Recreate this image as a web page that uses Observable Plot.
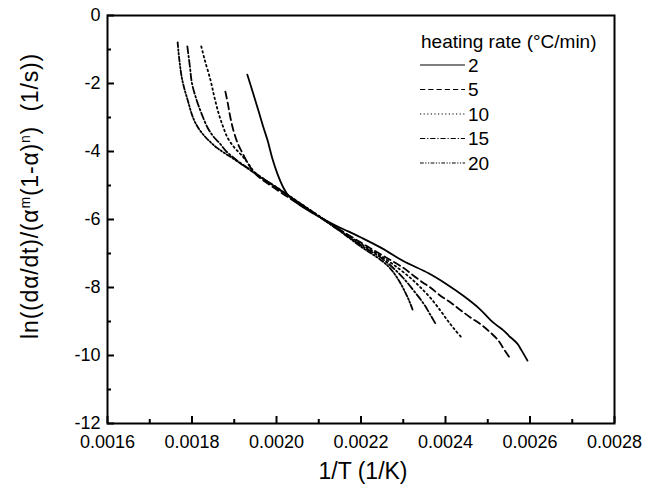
<!DOCTYPE html>
<html>
<head>
<meta charset="utf-8">
<script src="https://cdn.jsdelivr.net/npm/d3@7"></script>
<script src="https://cdn.jsdelivr.net/npm/@observablehq/plot@0.6"></script>
<style>
  html, body { margin: 0; padding: 0; background: #fff; }
  #chart { width: 649px; height: 493px; }
</style>
</head>
<body>
<div id="chart"></div>
<script>
// heating rates (°C/min) and their curves [1/T (1/K), ln(...)]
const rates = ["2", "5", "10", "15", "20"];
const s2 = [[0.001931,-1.74],[0.001945,-2.3],[0.001957,-2.79],[0.001968,-3.25],[0.001979,-3.68],[0.00199,-4.2],[0.002002,-4.65],[0.002017,-5.08],[0.00203,-5.33],[0.00205,-5.53],[0.00208,-5.77],[0.00211,-5.98],[0.00214,-6.18],[0.00217,-6.35],[0.0022,-6.53],[0.00225,-6.85],[0.0023,-7.22],[0.00236,-7.58],[0.0024,-7.88],[0.002443,-8.25],[0.00248,-8.62],[0.002506,-8.95],[0.00252,-9.1],[0.002537,-9.26],[0.00255,-9.42],[0.00257,-9.65],[0.00258,-9.85],[0.002594,-10.15]];
const s5 = [[0.001879,-2.24],[0.001885,-2.6],[0.00189,-2.95],[0.001898,-3.38],[0.001908,-3.75],[0.00192,-4.06],[0.001931,-4.32],[0.00195,-4.66],[0.002,-5.12],[0.00205,-5.52],[0.0021,-5.9],[0.00215,-6.3],[0.0022,-6.68],[0.00225,-7.05],[0.0023,-7.42],[0.002324,-7.65],[0.002346,-7.85],[0.002364,-8.0],[0.002388,-8.24],[0.002412,-8.44],[0.002435,-8.66],[0.002459,-8.88],[0.002483,-9.08],[0.002506,-9.32],[0.002525,-9.56],[0.002537,-9.79],[0.002555,-10.12]];
const s10 = [[0.001822,-0.91],[0.00183,-1.3],[0.001844,-1.91],[0.001853,-2.4],[0.001863,-2.88],[0.001873,-3.25],[0.001884,-3.59],[0.0019,-3.88],[0.001915,-4.08],[0.00193,-4.3],[0.00195,-4.63],[0.002,-5.05],[0.00205,-5.47],[0.0021,-5.89],[0.00215,-6.31],[0.0022,-6.72],[0.00225,-7.1],[0.00229,-7.45],[0.00232,-7.75],[0.002341,-8.0],[0.002364,-8.3],[0.002388,-8.68],[0.002405,-8.97],[0.00242,-9.21],[0.002438,-9.47]];
const s15 = [[0.001789,-0.91],[0.001795,-1.5],[0.0018,-2.0],[0.00181,-2.45],[0.001823,-2.9],[0.001837,-3.3],[0.00185,-3.55],[0.001867,-3.78],[0.00188,-3.98],[0.0019,-4.2],[0.00195,-4.64],[0.002,-5.06],[0.00205,-5.48],[0.0021,-5.9],[0.00215,-6.33],[0.0022,-6.76],[0.00225,-7.15],[0.00228,-7.47],[0.0023,-7.72],[0.002324,-8.08],[0.002348,-8.47],[0.002364,-8.8],[0.002378,-9.1]];
const s20 = [[0.001766,-0.79],[0.00177,-1.3],[0.001777,-1.9],[0.00179,-2.5],[0.001804,-3.05],[0.00182,-3.4],[0.00184,-3.68],[0.00186,-3.9],[0.0019,-4.23],[0.00195,-4.65],[0.002,-5.06],[0.00205,-5.49],[0.0021,-5.91],[0.00215,-6.34],[0.0022,-6.8],[0.00225,-7.22],[0.00227,-7.45],[0.00229,-7.8],[0.002305,-8.15],[0.002315,-8.42],[0.002322,-8.65]];
const seriesData = [s2, s5, s10, s15, s20];
const dashes = ["none", "7,4", "1.6,3.2", "7,2.5,1.6,2.5", "5,2,1.6,2,1.6,2"];
const xDomain = [0.0016, 0.0028];
const yDomain = [-12, 0];
const xMajor = [0.0016, 0.0018, 0.0020, 0.0022, 0.0024, 0.0026, 0.0028];
const xMinor = [0.0017, 0.0019, 0.0021, 0.0023, 0.0025, 0.0027];
const yMajor = [0, -2, -4, -6, -8, -10, -12];
const yMinor = [-1, -3, -5, -7, -9, -11];
const xTitle = "1/T (1/K)";
const legendTitle = "heating rate (°C/min)";

const rows = seriesData.flatMap((s, i) => s.map(([x, y]) => ({rate: rates[i], x, y})));

const W = 649, H = 493, ML = 107, MR = 35, MT = 15, MB = 70;
const FW = W - ML - MR, FH = H - MT - MB;
// tick lengths in pixels converted to data units (linear scales)
const yPx = (yDomain[1] - yDomain[0]) / FH;
const xPx = (xDomain[1] - xDomain[0]) / FW;
const font = "Liberation Sans, Arial, Helvetica, sans-serif";
const plot = Plot.plot({
  width: W,
  height: H,
  marginLeft: ML,
  marginRight: MR,
  marginTop: MT,
  marginBottom: MB,
  style: {fontFamily: font, fontSize: "18px", color: "#000", background: "#fff"},
  x: {domain: xDomain},
  y: {domain: yDomain},
  marks: [
    ...rates.map((r, i) => Plot.line(rows.filter(d => d.rate === r), {
      x: "x", y: "y", stroke: "#000", strokeWidth: 1.8,
      strokeDasharray: dashes[i] === "none" ? null : dashes[i], curve: "catmull-rom"
    })),
    // inward ticks
    Plot.ruleX(xMajor, {x: d => d, y1: yDomain[0], y2: yDomain[0] + 7 * yPx, stroke: "#000", strokeWidth: 2}),
    Plot.ruleX(xMinor, {x: d => d, y1: yDomain[0], y2: yDomain[0] + 4 * yPx, stroke: "#000", strokeWidth: 2}),
    Plot.ruleY(yMajor, {y: d => d, x1: xDomain[0], x2: xDomain[0] + 7 * xPx, stroke: "#000", strokeWidth: 2}),
    Plot.ruleY(yMinor, {y: d => d, x1: xDomain[0], x2: xDomain[0] + 4 * xPx, stroke: "#000", strokeWidth: 2}),
    // tick labels
    Plot.axisX(xMajor, {tickSize: 0, tickPadding: 12, tickFormat: d => d.toFixed(4), label: null, fontSize: 18}),
    Plot.axisY(yMajor, {tickSize: 0, tickPadding: 7, tickFormat: d => String(d), label: null, fontSize: 18}),
    Plot.frame({stroke: "#000", strokeWidth: 2})
  ]
});
document.getElementById("chart").appendChild(plot);

const svg = d3.select(plot);
// x-axis title
svg.append("text").attr("x", 363).attr("y", 479).attr("text-anchor", "middle")
  .attr("font-family", font).attr("font-size", 23).attr("fill", "#000").text(xTitle);
// y-axis title with superscripts
const yt = svg.append("text").attr("transform", "translate(38,196) rotate(-90)")
  .attr("text-anchor", "middle").attr("font-family", font).attr("font-size", 23)
  .attr("letter-spacing", 0.8).attr("fill", "#000");
yt.append("tspan").text("ln((dα/dt)/(α");
yt.append("tspan").attr("baseline-shift", "super").attr("font-size", 14).text("m");
yt.append("tspan").text("(1-α)");
yt.append("tspan").attr("baseline-shift", "super").attr("font-size", 14).text("n");
yt.append("tspan").text(")\u00a0\u00a0(1/s))");
// legend
const lg = svg.append("g").attr("font-family", font).attr("font-size", 19)
  .attr("fill", "#000").attr("text-anchor", "start");
lg.append("text").attr("x", 421).attr("y", 48).attr("text-anchor", "start").text(legendTitle);
rates.forEach((r, i) => {
  const cy = 65 + i * 24.5;
  lg.append("line").attr("x1", 420).attr("x2", 465).attr("y1", cy).attr("y2", cy)
    .attr("stroke", "#000").attr("stroke-width", 1.2)
    .attr("stroke-dasharray", dashes[i] === "none" ? null : dashes[i].split(",").map(v => v * 0.75).join(","));
  lg.append("text").attr("x", 468).attr("y", cy + 6.5).attr("text-anchor", "start").text(r);
});
</script>
</body>
</html>
